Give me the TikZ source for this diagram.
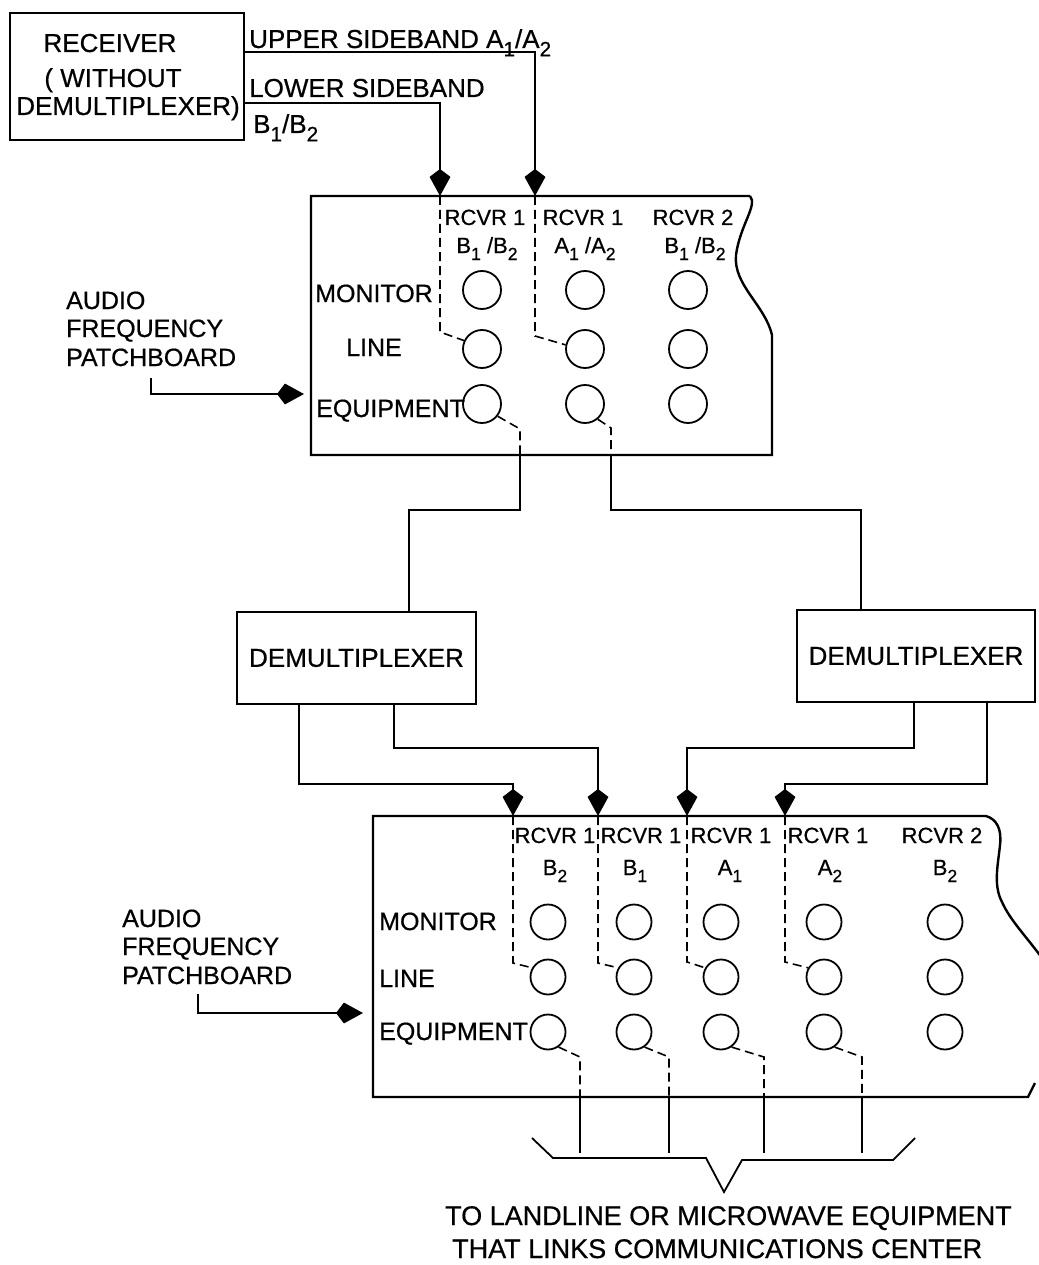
\documentclass[tikz,border=0pt]{standalone}
\usepackage{fontspec}
\usepackage{graphicx}
\setmainfont{Liberation Sans}[BoldFont={Liberation Sans}, BoldFeatures={FakeBold=0.6}]
\usetikzlibrary{arrows.meta}
\newcommand\sbx[1]{\raisebox{-0.32em}{\scalebox{0.8}{#1}}}
\begin{document}
\begin{tikzpicture}[x=1pt,y=-1pt,
  box/.style={draw, line width=2.4pt},
  wire/.style={line width=1.8pt},
  dsh/.style={line width=1.6pt, dash pattern=on 9pt off 5pt},
  jackA/.style={draw, circle, line width=1.8pt, minimum size=38pt, inner sep=0pt},
  jackB/.style={draw, circle, line width=1.8pt, minimum size=35pt, inner sep=0pt},
  tx/.style={font=\fontsize{25}{28}\selectfont\bfseries, inner sep=0pt, anchor=base west},
  rtx/.style={font=\fontsize{26}{28}\selectfont\bfseries, inner sep=0pt, anchor=base},
  hd/.style={font=\fontsize{22}{26}\selectfont\bfseries, inner sep=0pt, anchor=base},
  btx/.style={font=\fontsize{27}{30}\selectfont\bfseries, inner sep=0pt, anchor=base west},
  arr/.style={-{Stealth[length=19pt,width=20pt,inset=-8pt]}, line width=1.8pt},
]
\useasboundingbox (0,0) rectangle (1038,1265);

% ---------- receiver ----------
\node[box, minimum width=234pt, minimum height=127pt] (rcv) at (127,76.5) {};
\node[rtx] (r1) at (110,52) {RECEIVER};
\node[rtx] (r2) at (113,87) {( WITHOUT};
\node[rtx] (r3) at (128,115) {DEMULTIPLEXER)};

\coordinate (usb) at (535,52);
\coordinate (lsb) at (440,103);
\coordinate (pAt) at (0,196);
\coordinate (pAb) at (0,455);
\coordinate (pAl) at (304,0);
\draw[arr] (rcv.east |- usb) -- (usb) -- (usb |- pAt);
\draw[arr] (rcv.east |- lsb) -- (lsb) -- (lsb |- pAt);
\node[tx, font=\fontsize{26}{28}\selectfont\bfseries] (lu) at (249,48) {UPPER SIDEBAND A\sbx{1}/A\sbx{2}};
\node[tx, font=\fontsize{26}{28}\selectfont\bfseries] (ll) at (249,97) {LOWER SIDEBAND};
\node[tx, font=\fontsize{26}{28}\selectfont\bfseries] (lb) at (253,133) {B\sbx{1}/B\sbx{2}};

% ---------- upper patchboard ----------
\draw[box] (750,196) -- (311,196) -- (311,455) -- (772,455) -- (772,335)
  .. controls (765,305) and (733,285) .. (736,255)
  .. controls (740,225) and (758,205) .. (750,196);

\foreach \c/\x in {1/482,2/585,3/688}{
  \node[jackA] (am\c) at (\x,290) {};
  \node[jackA] (al\c) at (\x,349) {};
  \node[jackA] (ae\c) at (\x,404) {};
}
\node[hd] (ah1) at (485,225) {RCVR 1};
\node[hd] (ah2) at (583,225) {RCVR 1};
\node[hd] (ah3) at (693,225) {RCVR 2};
\node[hd] (as1) at (487,253) {B\sbx{1} /B\sbx{2}};
\node[hd] (as2) at (585,253) {A\sbx{1} /A\sbx{2}};
\node[hd] (as3) at (695,253) {B\sbx{1} /B\sbx{2}};

\node[tx] (amon) at (315,302) {MONITOR};
\node[tx] (alin) at (346,356) {LINE};
\node[tx] (aeq) at (316,417) {EQUIPMENT};

\coordinate (dA1) at (440,332);
\coordinate (dA2) at (535,336);
\draw[dsh] (lsb |- pAt) -- (dA1) -- (al1.155);
\draw[dsh] (usb |- pAt) -- (dA2) -- (al2.168);

\coordinate (eA1) at (520,429);
\coordinate (eA2) at (611,428);
\draw[dsh] (ae1.-38) -- (eA1) -- (eA1 |- pAb);
\draw[dsh] (ae2.-50) -- (eA2) -- (eA2 |- pAb);

% audio label (upper)
\node[tx] (au1) at (66,309) {AUDIO};
\node[tx] (au2) at (66,337) {FREQUENCY};
\node[tx] (au3) at (66,366) {PATCHBOARD};
\coordinate (aa) at (151,378);
\coordinate (ab) at (151,394);
\draw[arr] (aa) -- (ab) -- (ab -| pAl);

% ---------- demultiplexers ----------
\node[box, minimum width=239pt, minimum height=92pt, font=\fontsize{26}{28}\selectfont\bfseries] (dmxL) at (356.5,658) {DEMULTIPLEXER};
\node[box, minimum width=238pt, minimum height=92pt, font=\fontsize{26}{28}\selectfont\bfseries] (dmxR) at (916,656) {DEMULTIPLEXER};

\coordinate (jL) at (409,510);
\coordinate (jR) at (861,510);
\draw[wire] (eA1 |- pAb) -- (eA1 |- jL) -- (jL) -- (jL |- dmxL.north);
\draw[wire] (eA2 |- pAb) -- (eA2 |- jR) -- (jR) -- (jR |- dmxR.north);

\coordinate (pBt) at (0,816);
\coordinate (pBb) at (0,1097);
\coordinate (o1) at (299,784); \coordinate (k1) at (513,784);
\coordinate (o2) at (394,748); \coordinate (k2) at (598,748);
\coordinate (o3) at (914,748); \coordinate (k3) at (687,748);
\coordinate (o4) at (987,784); \coordinate (k4) at (785,784);
\draw[arr] (o1 |- dmxL.south) -- (o1) -- (k1) -- (k1 |- pBt);
\draw[arr] (o2 |- dmxL.south) -- (o2) -- (k2) -- (k2 |- pBt);
\draw[arr] (o3 |- dmxR.south) -- (o3) -- (k3) -- (k3 |- pBt);
\draw[arr] (o4 |- dmxR.south) -- (o4) -- (k4) -- (k4 |- pBt);

% ---------- lower patchboard ----------
\draw[box] (986,816) -- (373,816) -- (373,1097) -- (1028,1097) -- (1035,1083);
\draw[box] (986,816) .. controls (996,819) and (1002,828) .. (1000,845)
  .. controls (998,865) and (993,885) .. (1002,902)
  .. controls (1010,920) and (1025,935) .. (1042,958);

\foreach \c/\x in {1/548,2/634,3/721,4/824,5/945}{
  \node[jackB] (bm\c) at (\x,922) {};
  \node[jackB] (bl\c) at (\x,977) {};
  \node[jackB] (be\c) at (\x,1032) {};
}
\node[hd] (bh1) at (555,843) {RCVR 1};
\node[hd] (bh2) at (641,843) {RCVR 1};
\node[hd] (bh3) at (731,843) {RCVR 1};
\node[hd] (bh4) at (828,843) {RCVR 1};
\node[hd] (bh5) at (942,843) {RCVR 2};
\node[hd] (bs1) at (555,875) {B\sbx{2}};
\node[hd] (bs2) at (635,875) {B\sbx{1}};
\node[hd] (bs3) at (730,875) {A\sbx{1}};
\node[hd] (bs4) at (830,875) {A\sbx{2}};
\node[hd] (bs5) at (945,875) {B\sbx{2}};

\node[tx] (bmon) at (379,930) {MONITOR};
\node[tx] (blin) at (379,987) {LINE};
\node[tx] (beq) at (379,1040) {EQUIPMENT};

\coordinate (dB1) at (513,963);
\coordinate (dB2) at (598,963);
\coordinate (dB3) at (687,962);
\coordinate (dB4) at (785,962);
\draw[dsh] (k1 |- pBt) -- (dB1) -- (bl1.150);
\draw[dsh] (k2 |- pBt) -- (dB2) -- (bl2.150);
\draw[dsh] (k3 |- pBt) -- (dB3) -- (bl3.150);
\draw[dsh] (k4 |- pBt) -- (dB4) -- (bl4.150);

\coordinate (eB1) at (580,1057);
\coordinate (eB2) at (669,1057);
\coordinate (eB3) at (764,1057);
\coordinate (eB4) at (862,1057);
\coordinate (tB) at (0,1153);
\foreach \i in {1,2,3,4}{
  \draw[dsh] (be\i.-55) -- (eB\i) -- (eB\i |- pBb);
  \draw[wire] (eB\i |- pBb) -- (eB\i |- tB);
}

% audio label (lower)
\node[tx] (bu1) at (122,927) {AUDIO};
\node[tx] (bu2) at (122,955) {FREQUENCY};
\node[tx] (bu3) at (122,984) {PATCHBOARD};
\coordinate (ba) at (198,994);
\coordinate (bb) at (198,1013);
\coordinate (pBl) at (363,0);
\draw[arr] (ba) -- (bb) -- (bb -| pBl);

% ---------- brace and destination ----------
\draw[wire] (532,1138) -- (553,1158) -- (706,1158) -- (724,1192) -- (742,1160) -- (893,1160) -- (915,1138);
\node[btx] (d1) at (445,1225) {TO LANDLINE OR MICROWAVE EQUIPMENT};
\node[btx] (d2) at (452,1258) {THAT LINKS COMMUNICATIONS CENTER};
\end{tikzpicture}
\end{document}
